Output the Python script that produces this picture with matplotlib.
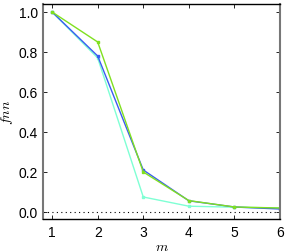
import matplotlib
matplotlib.use("Agg")
import matplotlib.pyplot as plt

m = [1, 2, 3, 4, 5, 6]
blue = [1.0, 0.78, 0.21, 0.056, 0.025, 0.015]
green = [1.0, 0.85, 0.20, 0.057, 0.025, 0.02]
cyan = [1.0, 0.77, 0.075, 0.029, 0.024, 0.02]
yticks = [0.0, 0.2, 0.4, 0.6, 0.8, 1.0]

plt.rcParams['font.family'] = ['Liberation Sans', 'DejaVu Sans']
plt.rcParams['mathtext.fontset'] = 'cm'

fig = plt.figure(figsize=(2.92, 2.53), dpi=100)
ax = fig.add_axes([43/292, 1-220/253, (280-43)/292, (220-5)/253])

ax.plot(m, cyan, color='#7fffd4', lw=1, marker='s', ms=2)
ax.plot(m, blue, color='#3a5cf0', lw=1, marker='s', ms=2)
ax.plot(m, green, color='#80e020', lw=1, marker='s', ms=2)
ax.axhline(0, color='black', ls=(0, (1, 3)), lw=0.8)

ax.set_xlim(0.8, 6)
ax.set_ylim(-0.035, 1.04)
ax.set_xticks(m)
ax.set_yticks(yticks)
ax.set_yticklabels([f"{v:.1f}" for v in yticks])
ax.tick_params(direction='in', top=True, right=True, labelsize=10, length=3, width=0.6)
ax.tick_params(axis='x', pad=4)
for s in ['left', 'right']:
    ax.spines[s].set_color('#777777')
    ax.spines[s].set_linewidth(1.5)
for s in ['top', 'bottom']:
    ax.spines[s].set_linewidth(1.0)
ax.set_xlabel('$m$', fontsize=10)
ax.set_ylabel('$fnn$', fontsize=10)
ax.xaxis.set_label_coords(0.5, -0.095)
ax.yaxis.set_label_coords(-0.12, 0.5)

fig.savefig('out.png', dpi=100)
